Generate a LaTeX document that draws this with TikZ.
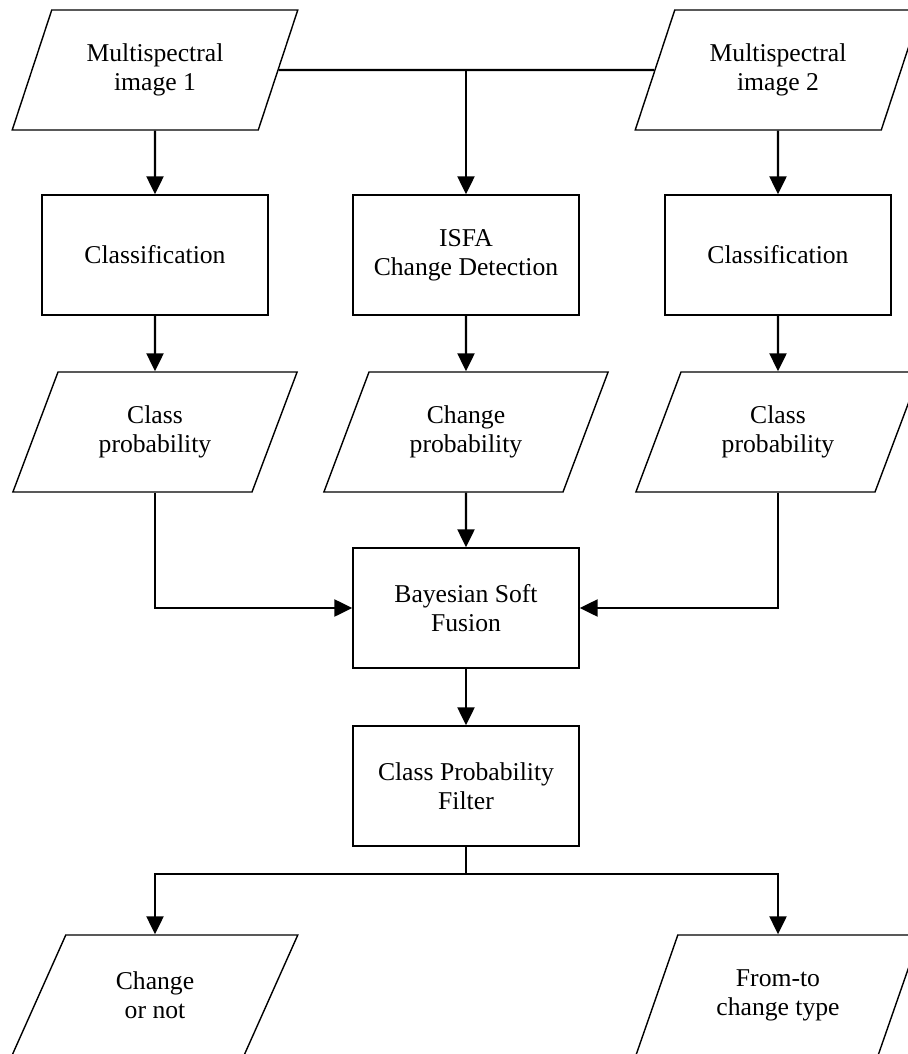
\documentclass[tikz,border=0pt]{standalone}
\usepackage{fontspec}
\setmainfont{Liberation Serif}
\usetikzlibrary{arrows.meta,shapes.geometric}

\begin{document}
\begin{tikzpicture}[x=0.02cm, y=-0.02cm,
    every node/.style={font=\fontsize{14.6}{16.5}\selectfont, align=center},
    proc/.style={draw, line width=0.8pt, minimum width=4.52cm, minimum height=2.4cm, inner sep=0pt},
    data/.style={draw, line width=0.8pt, trapezium, trapezium left angle=63.43, trapezium right angle=116.57,
        trapezium stretches, minimum width=5.72cm, minimum height=2.4cm, inner sep=0pt},
    line/.style={line width=1.3pt},
    arr/.style={line width=1.3pt, -{Triangle[length=0.36cm, width=0.34cm]}}]
            \useasboundingbox (0,0) rectangle (907,1054);

            % 输入影像
            \node[data] (img1) at (155,70) {Multispectral\\image 1};
            \node[data] (img2) at (778,70) {Multispectral\\image 2};

            % 分类与变化检测
            \node[proc] (cls1) at (155,255) {Classification};
            \node[proc] (isfa) at (466,255) {ISFA\\Change Detection};
            \node[proc] (cls2) at (778,255) {Classification};

            % 概率
            \node[data] (prob1) at (155,432) {Class\\probability};
            \node[data] (chg) at (466,432) {Change\\probability};
            \node[data] (prob2) at (778,432) {Class\\probability};

            % 融合与滤波
            \node[proc] (fusion) at (466,608) {Bayesian Soft\\Fusion};
            \node[proc] (filter) at (466,786) {Class Probability\\Filter};

            % 输出
            \node[data] (out1) at (155,995) {Change\\or not};
            \node[data] (out2) at (778,995) {From-to\\change type};

            % 连线
            \draw[line] (img1) -- (img2);
            \draw[arr] (img1) -- (cls1);
            \draw[arr] (img2) -- (cls2);
            \draw[arr] (img1 -| isfa) -- (isfa);
            \draw[arr] (cls1) -- (prob1);
            \draw[arr] (isfa) -- (chg);
            \draw[arr] (cls2) -- (prob2);
            \draw[arr] (prob1) |- (fusion);
            \draw[arr] (chg) -- (fusion);
            \draw[arr] (prob2) |- (fusion);
            \draw[arr] (fusion) -- (filter);

            % 分支
            \coordinate (split) at (466,874);
            \draw[line] (filter) -- (split);
            \draw[arr] (split) -| (out1);
            \draw[arr] (split) -| (out2);
        \end{tikzpicture}
\end{document}
